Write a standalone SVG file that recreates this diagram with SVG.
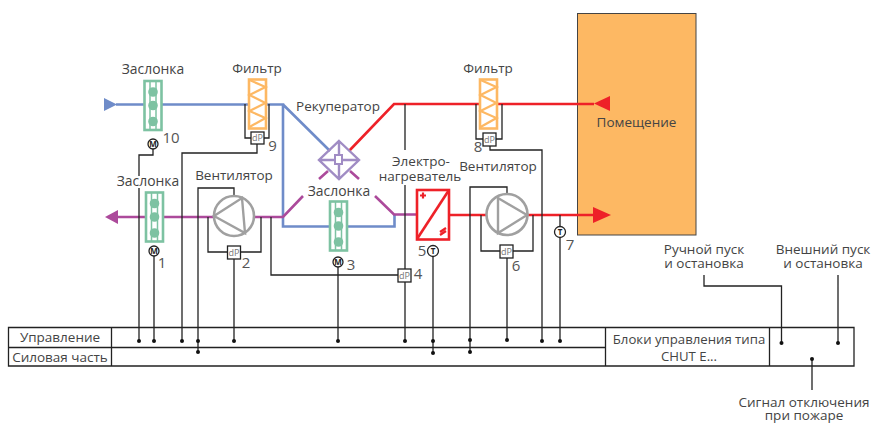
<svg xmlns="http://www.w3.org/2000/svg" width="871" height="424" viewBox="0 0 871 424">
<style>
text{font-family:"Open Sans","Noto Sans","Liberation Sans",sans-serif;font-size:13.5px;fill:#444;text-anchor:middle}
.w{fill:none;stroke:#222;stroke-width:1.3}
.blue{fill:none;stroke:#6f8cc9;stroke-width:2.6}
.red{fill:none;stroke:#ee2128;stroke-width:2.6}
.mag{fill:none;stroke:#ac4a9b;stroke-width:2.6}
.dmp{fill:#fff;stroke:#7dc2a2;stroke-width:2.6}
.dl{stroke:#7dc2a2;stroke-width:1.5;fill:none}
.flt{fill:#fff;stroke:#fdb863;stroke-width:2.6}
.fz{fill:none;stroke:#fdb863;stroke-width:2.2}
.fan{fill:#fff;stroke:#a0a0a0;stroke-width:2.6}
.ft{fill:none;stroke:#a0a0a0;stroke-width:2.4}
.dp{fill:#fff;stroke:#222;stroke-width:1.3}
.dpt{font-size:9px;fill:#777}
.m{fill:#fff;stroke:#222;stroke-width:1.3}
.mt{font-size:8px;fill:#222;font-weight:700}
.n{font-size:15px;fill:#555}
.z{font-size:13.9px}
.rec{fill:none;stroke:#a08cc4;stroke-width:2.4}
</style>
<defs>
<g id="damper">
<rect class="dmp" x="-8.500" y="-24.500" width="17" height="49"/>
<path class="dl" d="M-3-24V24M3-24V24"/>
<circle cx="0" cy="-13.500" r="4.800" fill="#7dc2a2"/><circle cx="0" cy="0" r="4.800" fill="#7dc2a2"/><circle cx="0" cy="16" r="4.800" fill="#7dc2a2"/>
</g>
<g id="filter">
<rect class="flt" x="-8.500" y="-24.500" width="17" height="49"/>
<path class="fz" d="M-8-24L8-17L-8-9L8-1L-8 7L8 14L-8 23"/>
</g>
<circle id="dot" r="2" fill="#111"/>
</defs>
<g id="room"><rect x="577.500" y="13.500" width="118.500" height="221.500" fill="#fdb863" stroke="#444" stroke-width="1"/><text x="636.500" y="127">Помещение</text></g>
<g id="connectors">
<path class="blue" d="M116 104.500H283V226.500H394.500V215M283 104.500L330 151"/>
<path class="mag" d="M118 217H283L303 196M319 179L328 171M350 171L359 179M375 196L394 214.500H417"/>
<path class="red" d="M349 151L394 104H594M449 215H486M527 215H594"/>
<path class="w" d="M153 149V155H139V176M139 188V340M154 256V340M182 340V153H257V144M245 104V138H252M269 104V138H264"/>
<path class="w" d="M198 352V188H234V196M208 217V252H228M261 217V252H241M234 259V340"/>
<path class="w" d="M271 217V275H398M338 267V340M405 104V150M405 185V269M405 282V340"/>
<path class="w" d="M433 256V352M470 352V187H507V194M481 215V251H500M533 215V251H513M507 258V340"/>
<path class="w" d="M476 104V139H483M502 104V139H496M490 146V150H542V340M560 215V227M560 237V340"/>
<path class="w" d="M704 275V286H781.500V343M838 275V343M812 359V390"/>
<g fill="#111"><path d="M104 98L117 104.500L104 111Z" fill="#6f8cc9"/><path d="M105 217L118 210V224Z" fill="#ac4a9b"/><path d="M594 103.500L610 96V111Z" fill="#ee2128"/><path d="M611 215L593 207V223Z" fill="#ee2128"/></g>
</g>
<g id="damper10"><use href="#damper" x="153" y="105.500"/><circle class="m" cx="153" cy="144" r="5"/><text class="mt" x="153" y="147">M</text><text class="n" x="171" y="143">10</text><text class="z" x="153" y="74">Заслонка</text></g>
<g id="filter9"><use href="#filter" x="257.500" y="104"/><rect class="dp" x="251" y="132" width="13" height="12"/><text class="dpt" x="257.500" y="141">dP</text><text class="n" x="272.500" y="151">9</text><text x="257" y="73">Фильтр</text></g>
<g id="damper1"><use href="#damper" x="154.500" y="217"/><circle class="m" cx="154" cy="251" r="5"/><text class="mt" x="154" y="254">M</text><text class="n" x="162" y="268">1</text><text class="z" x="148" y="186">Заслонка</text></g>
<g id="fan2"><circle class="fan" cx="234" cy="216" r="20"/><path class="ft" d="M214 216L242 198L245 233Z"/><rect class="dp" x="227.500" y="246" width="13" height="13"/><text class="dpt" x="234" y="256">dP</text><text class="n" x="246" y="268">2</text><text x="234" y="180">Вентилятор</text></g>
<g id="recuperator"><path class="rec" d="M339 141L359 160L339 179L319 160ZM339 141V179M319 160H359"/><rect x="335" y="155" width="7" height="9" fill="#fff" stroke="#a08cc4" stroke-width="2"/><text x="338" y="111">Рекуператор</text></g>
<g id="damper3"><use href="#damper" x="338.500" y="226"/><circle class="m" cx="338" cy="262" r="5"/><text class="mt" x="338" y="265">M</text><text class="n" x="351" y="270">3</text><text class="z" x="339" y="196">Заслонка</text></g>
<g id="dp4"><rect class="dp" x="398" y="269" width="13" height="13"/><text class="dpt" x="404.500" y="279">dP</text><text class="n" x="418" y="279">4</text></g>
<g id="heater"><rect x="417" y="190" width="32" height="49.500" fill="#fff" stroke="#ee2128" stroke-width="2.600"/><path d="M417 239L449 190" stroke="#ee2128" stroke-width="2.600"/><path d="M420 195.500H426M423 192.500V198.500" stroke="#ee2128" stroke-width="2.200"/><path d="M440 235L446 231M440 232L446 228" stroke="#ee2128" stroke-width="2.200"/><circle class="m" cx="433" cy="251" r="5.500"/><text class="mt" x="433" y="254">T</text><text class="n" x="422" y="256">5</text><text x="421" y="166">Электро-</text><text x="420" y="181">нагреватель</text></g>
<g id="filter8"><use href="#filter" x="488.500" y="104"/><rect class="dp" x="483" y="133" width="13" height="13"/><text class="dpt" x="489.500" y="143">dP</text><text class="n" x="478" y="152">8</text><text x="488" y="73">Фильтр</text></g>
<g id="fan6"><circle class="fan" cx="507" cy="214.500" r="20.500"/><path class="ft" d="M498 198L527 215L498 233Z"/><rect class="dp" x="500" y="245" width="13" height="13"/><text class="dpt" x="506.500" y="255">dP</text><text class="n" x="516" y="271">6</text><text x="498" y="171">Вентилятор</text></g>
<g id="t7"><circle class="m" cx="560" cy="232" r="5.500"/><text class="mt" x="560" y="235">T</text><text class="n" x="570" y="250">7</text></g>
<g id="panel"><path d="M8.500 327.500H854V366H8.500ZM8.500 347.500H605.500M111.500 327.500V366M605.500 327.500V366M769.500 327.500V366" fill="none" stroke="#222" stroke-width="1.300"/>
<text x="60" y="342">Управление</text><text x="60" y="362">Силовая часть</text><text x="689" y="344" style="font-size:13.200px">Блоки управления типа</text><text x="689" y="361" style="font-size:13.200px">CHUT E...</text></g>
<g id="dots">
<use href="#dot" x="139" y="341"/><use href="#dot" x="154" y="341"/><use href="#dot" x="182" y="341"/><use href="#dot" x="198" y="341"/><use href="#dot" x="198" y="352"/><use href="#dot" x="234" y="341"/><use href="#dot" x="338" y="341"/><use href="#dot" x="405" y="341"/><use href="#dot" x="433" y="341"/><use href="#dot" x="433" y="353"/><use href="#dot" x="470" y="340"/><use href="#dot" x="470" y="352"/><use href="#dot" x="507" y="340"/><use href="#dot" x="542" y="341"/><use href="#dot" x="560" y="341"/><use href="#dot" x="781.500" y="343"/><use href="#dot" x="838" y="343"/><use href="#dot" x="812" y="359"/>
</g>
<g id="labels"><text x="704" y="254">Ручной пуск</text><text x="704" y="268">и остановка</text><text x="823" y="254">Внешний пуск</text><text x="823" y="268">и остановка</text><text x="804" y="407">Сигнал отключения</text><text x="804" y="420">при пожаре</text></g>
</svg>
